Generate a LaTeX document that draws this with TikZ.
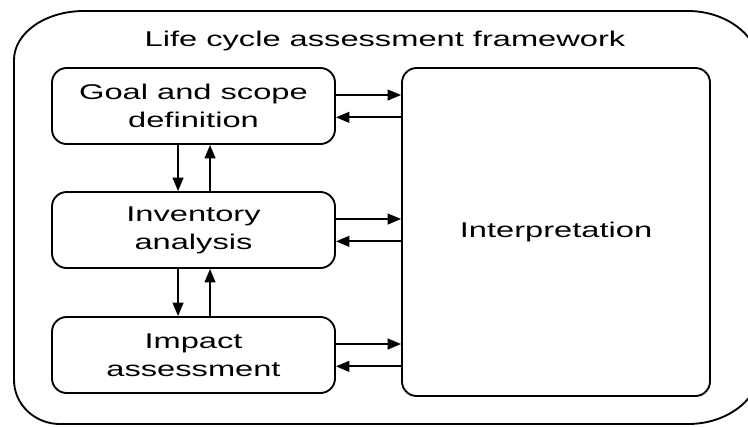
\documentclass[tikz,border=0pt]{standalone}
\usepackage{fontspec}
\setmainfont{Liberation Sans}[FakeStretch=1.53]
\usetikzlibrary{arrows.meta}
\begin{document}
\begin{tikzpicture}[x=0.75pt,y=-0.75pt,
  line width=1.4pt,
  box/.style={draw,rounded corners=11pt,align=center,inner sep=0pt,
    font=\fontsize{16pt}{21pt}\selectfont},
  arr/.style={-{Triangle[length=10pt,width=8pt]}},
  lbl/.style={font=\fontsize{16pt}{21pt}\selectfont}]
\useasboundingbox (0,0) rectangle (748,426);
\clip (0,0) rectangle (748,426);
% outer frame
\draw (14,60) .. controls (14,32.9) and (45.3,11) .. (84,11)
  -- (688,11) .. controls (728.3,11) and (761,37.9) .. (761,71)
  -- (761,365) .. controls (761,398.1) and (728.3,424) .. (688,424)
  -- (60,424) .. controls (34.6,424) and (14,404.3) .. (14,380) -- cycle;
\node[lbl] (title) at (385,41) {Life cycle assessment framework};
\node[box,minimum width={283*0.75pt},minimum height={76*0.75pt}] (goal) at (193.5,106) {Goal and scope\\definition};
\node[box,minimum width={283*0.75pt},minimum height={76*0.75pt}] (inv) at (193.5,230) {Inventory\\analysis};
\node[box,minimum width={283*0.75pt},minimum height={76*0.75pt}] (imp) at (193.5,355) {Impact\\assessment};
\node[box,minimum width={308*0.75pt},minimum height={328*0.75pt}] (interp) at (556,232) {Interpretation};
% horizontal arrows
\foreach \n in {goal,inv,imp}{
  \coordinate (\n-a) at ([yshift=8.25pt]\n.east);
  \coordinate (\n-b) at ([yshift=-8.5pt]\n.east);
  \draw[arr] (\n-a) -- (\n-a -| interp.west);
  \draw[arr] (\n-b -| interp.west) -- (\n-b);
}
% vertical arrows
\coordinate (d1) at ([xshift=-11.6pt]goal.south);
\coordinate (u1) at ([xshift=12.4pt]goal.south);
\draw[arr] (d1) -- (d1 |- inv.north);
\draw[arr] (u1 |- inv.north) -- (u1);
\coordinate (d2) at ([xshift=-11.6pt]inv.south);
\coordinate (u2) at ([xshift=12.4pt]inv.south);
\draw[arr] (d2) -- (d2 |- imp.north);
\draw[arr] (u2 |- imp.north) -- (u2);
\end{tikzpicture}
\end{document}
